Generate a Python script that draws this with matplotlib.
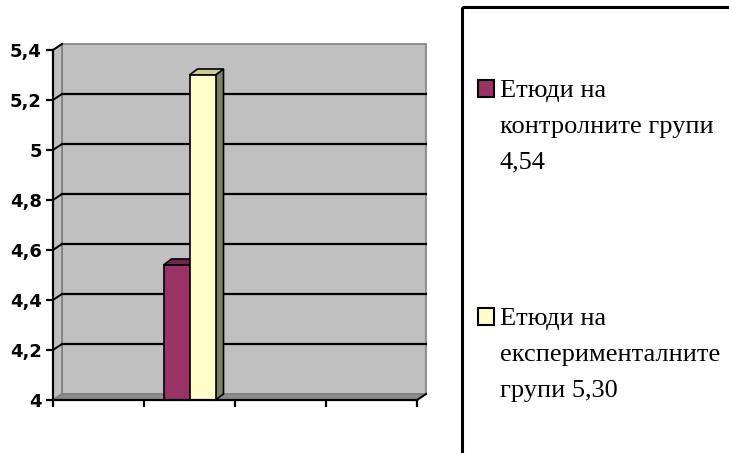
import matplotlib.pyplot as plt
import matplotlib.patches as mpatches
import numpy as np

# data
series_names = ["Етюди на\nконтролните групи\n{}", "Етюди на\nекспериментални\u0442\u0435\nгрупи {}"]
values = [4.54, 5.30]
colors = ["#993366", "#FFFFCC"]
side_colors = ["#4D1A33", "#808066"]
top_colors = ["#73264D", "#CCCC99"]
n_slots = 4
data_slot = 1
y_ticks = [4, 4.2, 4.4, 4.6, 4.8, 5, 5.2, 5.4]

W, H = 729, 453
fig = plt.figure(figsize=(W / 100, H / 100), dpi=100)

def px(x, y):
    # pixel (from top-left) -> figure fraction
    return x / W, 1 - y / H

# plot area in pixels
left, right, top, bottom = 53, 417, 50, 400
ax = fig.add_axes([left / W, 1 - bottom / H, (right - left) / W, (bottom - top) / H])
ax.set_xlim(0, n_slots)
ax.set_ylim(y_ticks[0], y_ticks[-1])

# depth of the 3d look, px -> data units
DX = 9 * n_slots / (right - left)
DY = 6 * (y_ticks[-1] - y_ticks[0]) / (bottom - top)
y0, y1 = y_ticks[0], y_ticks[-1]

# back wall, side wall and floor
ax.add_patch(mpatches.Rectangle((DX, y0 + DY), n_slots, y1 - y0, facecolor="#C0C0C0",
                                edgecolor="#808080", lw=1.2, clip_on=False, zorder=0))
ax.add_patch(mpatches.Polygon([(0, y0), (DX, y0 + DY), (DX, y1 + DY), (0, y1)], closed=True,
                              facecolor="#C0C0C0", edgecolor="#808080", lw=1.2, clip_on=False, zorder=0))
ax.add_patch(mpatches.Polygon([(0, y0), (n_slots, y0), (n_slots + DX, y0 + DY), (DX, y0 + DY)], closed=True,
                              facecolor="#8C8C8C", edgecolor="#808080", lw=1.2, clip_on=False, zorder=0))

# gridlines on the back wall
for t in y_ticks[1:-1]:
    ax.plot([DX, n_slots + DX], [t + DY, t + DY], color="black", lw=1.6, zorder=1, clip_on=False)
    ax.plot([0, DX], [t, t + DY], color="black", lw=1.4, zorder=1, clip_on=False)
ax.plot([0, DX], [y1, y1 + DY], color="black", lw=1.4, zorder=1, clip_on=False)

# bars
bw = 26 * n_slots / (right - left)
bdx = 8 * n_slots / (right - left)
bdy = 6 * (y1 - y0) / (bottom - top)
center = data_slot + 0.5
for i, v in enumerate(values):
    x = center - bw + i * bw
    ax.add_patch(mpatches.Polygon([(x + bw, y0), (x + bw + bdx, y0 + bdy), (x + bw + bdx, v + bdy), (x + bw, v)],
                                  closed=True, facecolor=side_colors[i], edgecolor="black", lw=1.2,
                                  zorder=3 + i, clip_on=False))
    ax.add_patch(mpatches.Polygon([(x, v), (x + bdx, v + bdy), (x + bw + bdx, v + bdy), (x + bw, v)],
                                  closed=True, facecolor=top_colors[i], edgecolor="black", lw=1.2,
                                  zorder=3 + i, clip_on=False))
    ax.add_patch(mpatches.Rectangle((x, y0), bw, v - y0, facecolor=colors[i], edgecolor="black",
                                    lw=1.2, zorder=3 + i, clip_on=False))

ax.patch.set_visible(False)
for s in ["top", "right"]:
    ax.spines[s].set_visible(False)
for s in ["left", "bottom"]:
    ax.spines[s].set_linewidth(1.6)
    ax.spines[s].set_zorder(6)
ax.set_yticks(y_ticks)
ax.set_yticklabels([("%g" % t).replace(".", ",") for t in y_ticks],
                   fontfamily="DejaVu Sans", fontweight="bold", fontsize=13)
ax.set_xticks(np.arange(n_slots + 1))
ax.set_xticklabels([])
ax.tick_params(axis="both", length=5, width=1.6, color="black", pad=3)
ax.plot([n_slots, n_slots + DX], [y0, y0 + DY], color="black", lw=1.4, zorder=6, clip_on=False)

# legend box
lx, ly = px(462, 7)
fig.patches.append(mpatches.Rectangle((lx, ly), 1, -1, transform=fig.transFigure, fill=False,
                                      edgecolor="black", lw=2.2, figure=fig))
marker_tops = [80, 308]
for i, v in enumerate(values):
    mx, my = px(478, marker_tops[i] + 17)
    fig.patches.append(mpatches.Rectangle((mx, my), 16 / W, 17 / H, transform=fig.transFigure,
                                          facecolor=colors[i], edgecolor="black", lw=1.5, figure=fig))
    label = series_names[i].format(("%.2f" % v).replace(".", ","))
    tx, ty = px(500, marker_tops[i])
    fig.text(tx, ty, label, fontfamily="Liberation Serif", fontsize=19, va="top", ha="left",
             linespacing=1.82)

fig.savefig("out.png", dpi=100)
